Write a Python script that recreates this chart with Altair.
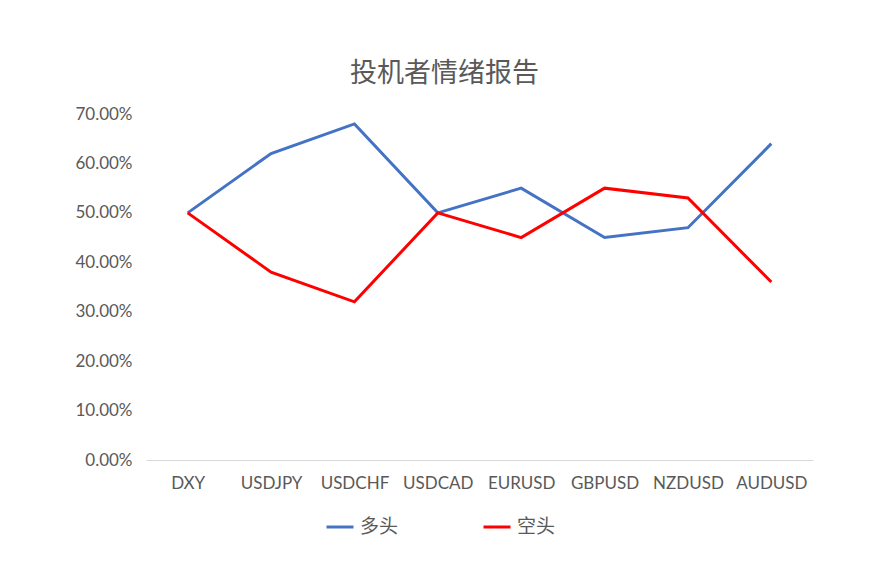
import pandas as pd
import altair as alt

pairs = ["DXY", "USDJPY", "USDCHF", "USDCAD", "EURUSD", "GBPUSD", "NZDUSD", "AUDUSD"]
long_pct = [0.50, 0.62, 0.68, 0.50, 0.55, 0.45, 0.47, 0.64]
short_pct = [0.50, 0.38, 0.32, 0.50, 0.45, 0.55, 0.53, 0.36]
series = ["多头", "空头"]
colors = ["#4472C4", "#FF0000"]
y_ticks = [0, 0.1, 0.2, 0.3, 0.4, 0.5, 0.6, 0.7]

df = pd.concat([
    pd.DataFrame({"pair": pairs, "value": long_pct, "side": series[0]}),
    pd.DataFrame({"pair": pairs, "value": short_pct, "side": series[1]}),
])

font = "Lato, Noto Sans CJK SC, sans-serif"
gray = "#595959"

chart = alt.Chart(df).mark_line(strokeWidth=3).encode(
    x=alt.X("pair:N", sort=pairs, title=None,
            scale=alt.Scale(paddingInner=0, paddingOuter=0.5),
            axis=alt.Axis(labelAngle=0, ticks=False, grid=False, domainColor="#d9d9d9",
                          labelPadding=15, labelFontSize=17, labelColor=gray, labelFont=font)),
    y=alt.Y("value:Q", title=None, scale=alt.Scale(domain=[0, 0.7], nice=False),
            axis=alt.Axis(format=".2%", values=y_ticks, grid=False, domain=False, ticks=False,
                          labelPadding=14, labelFontSize=17, labelColor=gray, labelFont=font)),
    color=alt.Color("side:N", scale=alt.Scale(domain=series, range=colors),
                    legend=alt.Legend(title=None, orient="none", direction="horizontal",
                                      legendX=179, legendY=398, symbolType="stroke",
                                      symbolSize=729, symbolStrokeWidth=3, labelOffset=5,
                                      columnPadding=78, labelFontSize=19, labelColor=gray,
                                      labelFont="Noto Sans CJK SC")),
).properties(
    width=667,
    height=346,
    padding={"left": 138, "top": 106, "right": 58, "bottom": 106},
    autosize=alt.AutoSizeParams(type="none"),
    title=alt.TitleParams("投机者情绪报告", font="Noto Sans CJK SC", fontSize=27,
                          fontWeight="normal", color=gray, offset=17, dx=-35),
).configure_view(stroke=None)

chart.save("out.html", embed_options={"renderer": "svg", "actions": False})
